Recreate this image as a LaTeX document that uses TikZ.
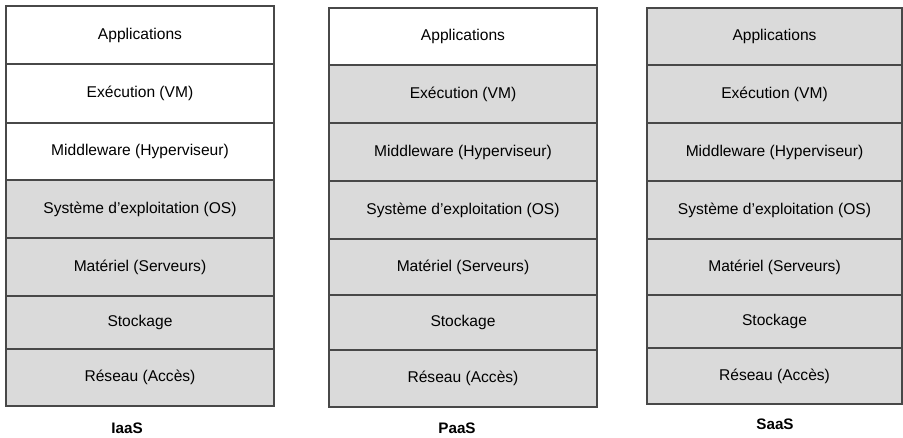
\documentclass[tikz,border=0pt]{standalone}
\usepackage{fontspec}
\setmainfont{Liberation Sans}
\definecolor{layergray}{RGB}{218,218,218}
\definecolor{edgegray}{RGB}{72,72,72}

\begin{document}
\begin{tikzpicture}[x=0.03cm,y=-0.03cm,
        layer/.style={draw=edgegray,line width=0.9pt,inner sep=0pt,outer sep=0pt,
            font=\fontsize{13.3}{16}\selectfont},
        model/.style={font=\fontsize{13}{15}\selectfont\bfseries}]
    \useasboundingbox (0,0) rectangle (903,437);
    % IaaS : top three layers left to the client
    \foreach \i/\txt/\ya/\yb in {1/Applications/6/64, 2/Exécution (VM)/64/123,
            3/Middleware (Hyperviseur)/123/180, 4/Système d’exploitation (OS)/180/238,
            5/Matériel (Serveurs)/238/296, 6/Stockage/296/349, 7/Réseau (Accès)/349/406}{
        \ifnum\i>3 \def\fc{layergray}\else\def\fc{white}\fi
        \node[layer,fill=\fc,minimum width={268*0.03cm},minimum height={(\yb-\ya)*0.03cm}]
            (iaas-\i) at (140,{(\ya+\yb)/2}) {\txt};
    }
    \node[model] (iaas) at (127,428) {IaaS};
    % PaaS : only the applications
    \foreach \i/\txt/\ya/\yb in {1/Applications/8/65, 2/Exécution (VM)/65/123,
            3/Middleware (Hyperviseur)/123/181, 4/Système d’exploitation (OS)/181/239,
            5/Matériel (Serveurs)/239/295, 6/Stockage/295/350, 7/Réseau (Accès)/350/407}{
        \ifnum\i>1 \def\fc{layergray}\else\def\fc{white}\fi
        \node[layer,fill=\fc,minimum width={268*0.03cm},minimum height={(\yb-\ya)*0.03cm}]
            (paas-\i) at (463,{(\ya+\yb)/2}) {\txt};
    }
    \node[model] (paas) at (457,428) {PaaS};
    % SaaS : everything managed
    \foreach \i/\txt/\ya/\yb in {1/Applications/8/65, 2/Exécution (VM)/65/123,
            3/Middleware (Hyperviseur)/123/181, 4/Système d’exploitation (OS)/181/239,
            5/Matériel (Serveurs)/239/295, 6/Stockage/295/348, 7/Réseau (Accès)/348/404}{
        \node[layer,fill=layergray,minimum width={255*0.03cm},minimum height={(\yb-\ya)*0.03cm}]
            (saas-\i) at (774.5,{(\ya+\yb)/2}) {\txt};
    }
    \node[model] (saas) at (775,424) {SaaS};
\end{tikzpicture}
\end{document}
